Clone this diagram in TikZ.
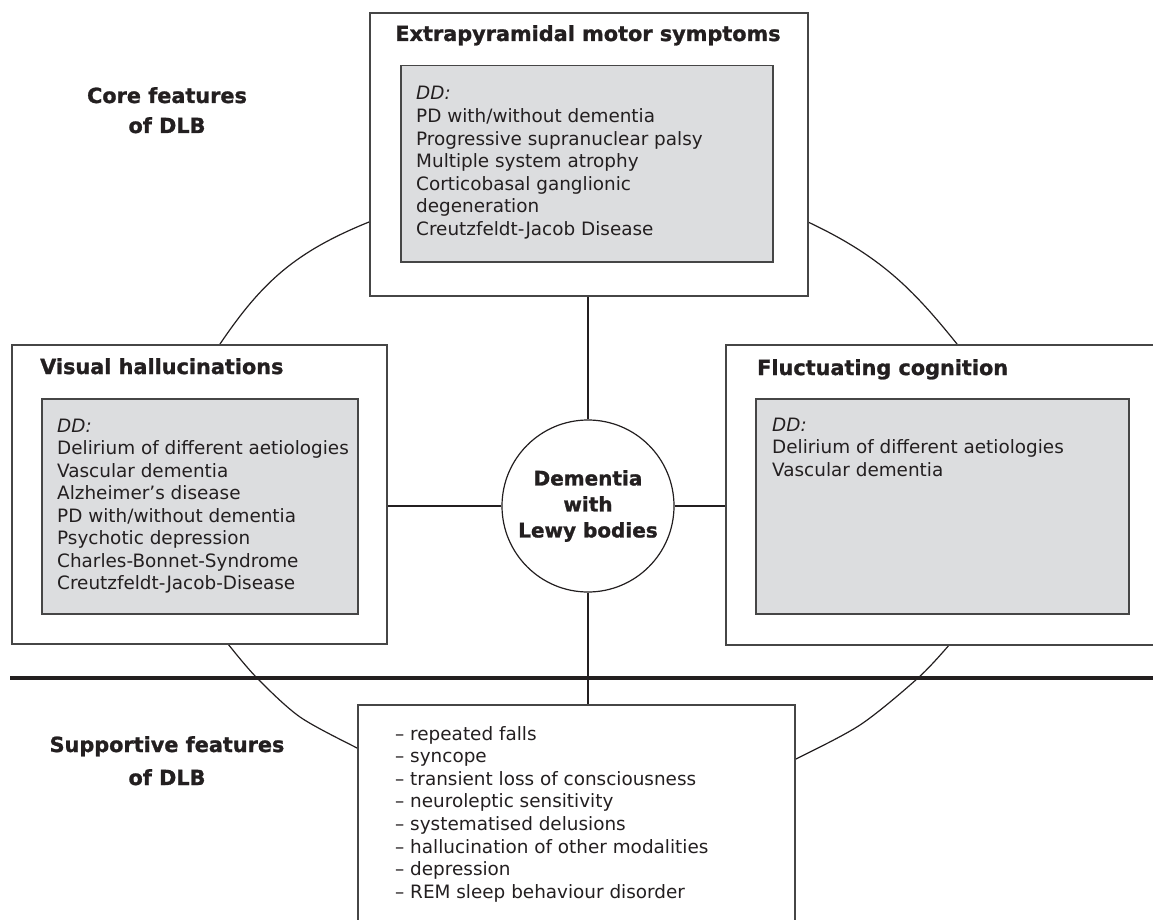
\documentclass[tikz,border=0pt]{standalone}
\usepackage{fontspec}
\setmainfont{DejaVu Sans}[BoldFeatures={FakeBold=1.2}]
\definecolor{ddgray}{RGB}{220,221,223}
\definecolor{txt}{RGB}{35,31,32}
\definecolor{edge}{RGB}{70,70,70}
\begin{document}
\begin{tikzpicture}[x=1pt,y=-1pt,
  outerbox/.style={draw=edge, line width=1.6pt, fill=white, anchor=north west, inner sep=0pt},
  ddbox/.style={draw=edge, line width=1.5pt, fill=ddgray, anchor=north west, inner sep=0pt},
  thinline/.style={draw=txt, line width=1.2pt},
  heading/.style={font=\fontsize{20.8}{30}\selectfont\bfseries, inner sep=0pt, text=txt},
  body/.style={font=\fontsize{18.4}{22.5}\selectfont, inner sep=0pt, align=left, text=txt, anchor=base west},
]
\useasboundingbox (0,0) rectangle (1153,920);

% big ellipse segments
\draw[thinline] (216,350) -- (220,344) .. controls (262,282) and (295,252) .. (369,222) -- (376,219);
\draw[thinline] (801,219) -- (808,222) .. controls (880,256) and (912,288) .. (957,344) -- (961,350);
\draw[thinline] plot[smooth] coordinates {(223,636) (228,644) (257,678) (300,717) (357,748) (366,752)};
\draw[thinline] plot[smooth] coordinates {(955,636) (950,644) (918,678) (860,725) (794,760) (785,764)};

% thick separator
\coordinate (sepL) at (10,678);
\coordinate (sepR) at (1153,678);
\draw[txt, line width=4pt] (sepL) -- (sepR);

% boxes
\node[outerbox, minimum width=438, minimum height=283] (top) at (369,12) {};
\node[ddbox, minimum width=372, minimum height=196] (topin) at (400,65) {};
\node[outerbox, minimum width=375, minimum height=299] (left) at (11,344) {};
\node[ddbox, minimum width=316, minimum height=215] (leftin) at (41,398) {};
\node[outerbox, minimum width=432, minimum height=300] (right) at (725,344) {};
\node[ddbox, minimum width=373, minimum height=215] (rightin) at (755,398) {};
\node[outerbox, minimum width=437, minimum height=260] (bot) at (357,704) {};

% centre
\node[circle, draw=txt, line width=1.2pt, fill=white, minimum size=172, inner sep=0pt,
      align=center, text=txt, font=\fontsize{20}{26}\selectfont\bfseries] (circ) at (588,506)
      {Dementia\\with\\Lewy bodies};

% connectors
\draw[thinline] (top.south -| circ.north) -- (circ.north);
\draw[thinline] (circ.west) -- (circ.west -| left.east);
\draw[thinline] (circ.east) -- (circ.east -| right.west);
\draw[thinline] (circ.south) -- (circ.south |- bot.north);

% headings
\node[heading, anchor=base] (toph) at (588,41) {Extrapyramidal motor symptoms};
\node[heading, anchor=base west] (lefth) at (40,374) {Visual hallucinations};
\node[heading, anchor=base west] (righth) at (757,375) {Fluctuating cognition};
\node[heading, anchor=base, align=center] (core) at (167,133) {Core features\\of DLB};
\node[heading, anchor=base, align=center, font=\fontsize{20.8}{33}\selectfont\bfseries] (supp) at (167,785) {Supportive features\\of DLB};

% body texts (anchor = baseline of last line)
\node[body] (toptxt) at (416,235) {\textit{DD:}\\PD with/without dementia\\Progressive supranuclear palsy\\Multiple system atrophy\\Corticobasal ganglionic\\degeneration\\Creutzfeldt-Jacob Disease};
\node[body] (lefttxt) at (57,589.5) {\textit{DD:}\\Delirium of different aetiologies\\Vascular dementia\\Alzheimer’s disease\\PD with/without dementia\\Psychotic depression\\Charles-Bonnet-Syndrome\\Creutzfeldt-Jacob-Disease};
\node[body] (righttxt) at (772,476) {\textit{DD:}\\Delirium of different aetiologies\\Vascular dementia};
\node[body, font=\fontsize{18.4}{22.6}\selectfont] (bottxt) at (395,898.2) {– repeated falls\\– syncope\\– transient loss of consciousness\\– neuroleptic sensitivity\\– systematised delusions\\– hallucination of other modalities\\– depression\\– REM sleep behaviour disorder};
\end{tikzpicture}
\end{document}
